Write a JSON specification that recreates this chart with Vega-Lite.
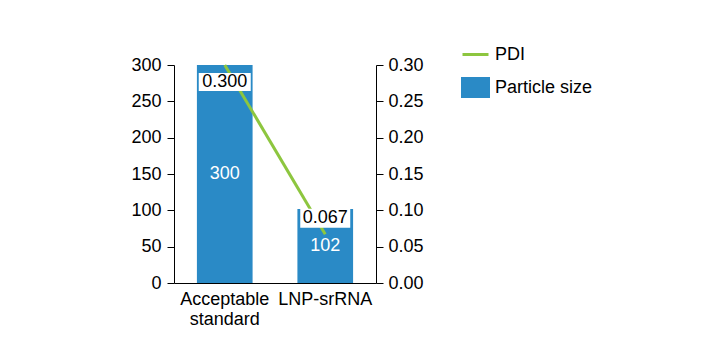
{
  "$schema": "https://vega.github.io/schema/vega-lite/v6.json",
  "autosize": "none",
  "width": 202,
  "height": 218,
  "padding": {"left": 174, "top": 65, "right": 344, "bottom": 78},
  "background": "white",
  "config": {
    "font": "Liberation Sans",
    "view": {"stroke": null},
    "axis": {"labelFont": "Liberation Sans", "labelFontSize": 18, "labelColor": "#000", "domainColor": "#000", "tickColor": "#000", "grid": false, "titleFontSize": 18}
  },
  "data": {"values": [
    {"cat": "Acceptable standard", "size": 300, "pdi": 0.3, "pdiLabel": "0.300", "pos": "below"},
    {"cat": "LNP-srRNA", "size": 102, "pdi": 0.067, "pdiLabel": "0.067", "pos": "above"}
  ]},
  "encoding": {
    "x": {"field": "cat", "type": "nominal", "sort": null,
      "scale": {"paddingInner": 0.446, "paddingOuter": 0.228},
      "axis": {"title": null, "ticks": false, "labelAngle": 0, "labelPadding": 7, "labelLineHeight": 20, "domainWidth": 1,
        "labelExpr": "datum.value == 'Acceptable standard' ? ['Acceptable', 'standard'] : datum.value"}}
  },
  "layer": [
    {
      "encoding": {
        "y": {"field": "size", "type": "quantitative", "scale": {"domain": [0, 300], "nice": false},
          "axis": {"title": null, "values": [0, 50, 100, 150, 200, 250, 300], "tickSize": 7, "labelPadding": 6, "domainWidth": 1}}
      },
      "layer": [
        {"mark": {"type": "bar"},
          "encoding": {"color": {"datum": "Particle size", "type": "nominal",
            "scale": {"domain": ["PDI", "Particle size"], "range": ["#8dc63f", "#2a8ac6"]},
            "legend": {"orient": "none", "legendX": 287, "legendY": -25, "title": null,
              "labelFont": "Liberation Sans", "labelFontSize": 18, "labelColor": "#000", "labelOffset": 5,
              "symbolSize": 676, "rowPadding": 8, "symbolStrokeWidth": 3,
              "encode": {"symbols": {"update": {
                "shape": {"signal": "datum.value == 'PDI' ? 'M-1,0H1' : 'M-1,-0.69H1V0.69H-1Z'"},
                "fill": {"signal": "datum.value == 'PDI' ? 'transparent' : '#2a8ac6'"},
                "stroke": {"signal": "datum.value == 'PDI' ? '#8dc63f' : 'transparent'"},
                "strokeWidth": {"value": 3},
                "opacity": {"value": 1}
              }}}}}}},
        {"transform": [{"calculate": "datum.size / 2", "as": "labelPos"}],
          "mark": {"type": "text", "color": "white", "fontSize": 18, "baseline": "middle"},
          "encoding": {"y": {"field": "labelPos", "type": "quantitative"},
            "text": {"field": "size", "type": "quantitative"}}}
      ]
    },
    {
      "encoding": {
        "y": {"field": "pdi", "type": "quantitative", "scale": {"domain": [0, 0.3], "nice": false},
          "axis": {"title": null, "orient": "right", "format": ".2f", "values": [0, 0.05, 0.1, 0.15, 0.2, 0.25, 0.3], "tickSize": 7, "labelPadding": 5, "domainWidth": 1}}
      },
      "layer": [
        {"mark": {"type": "line", "strokeWidth": 3},
          "encoding": {"color": {"datum": "PDI", "type": "nominal"}}},
        {"transform": [{"filter": "datum.pos == 'below'"}],
          "layer": [
            {"mark": {"type": "point", "filled": true, "color": "white", "opacity": 1, "size": 2704, "yOffset": 17, "shape": "M-1,-0.35H1V0.35H-1Z"}},
            {"mark": {"type": "text", "fontSize": 18, "color": "#000", "baseline": "middle", "dy": 17}, "encoding": {"text": {"field": "pdiLabel"}}}
          ]},
        {"transform": [{"filter": "datum.pos == 'above'"}],
          "layer": [
            {"mark": {"type": "point", "filled": true, "color": "white", "opacity": 1, "size": 2500, "yOffset": -16, "shape": "M-1,-0.38H1V0.38H-1Z"}},
            {"mark": {"type": "text", "fontSize": 18, "color": "#000", "baseline": "middle", "dy": -16}, "encoding": {"text": {"field": "pdiLabel"}}}
          ]}
      ]
    }
  ],
  "resolve": {"scale": {"y": "independent"}}
}
